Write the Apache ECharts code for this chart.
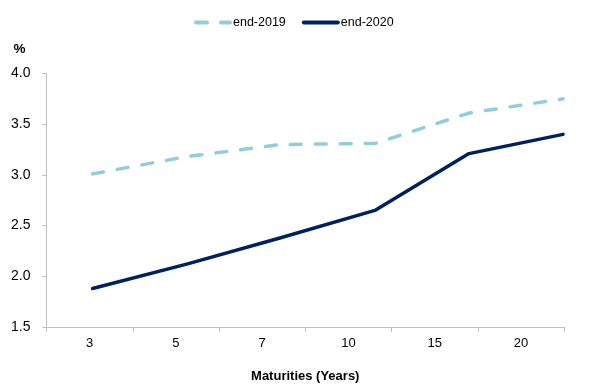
<!DOCTYPE html>
<html>
<head>
<meta charset="utf-8">
<script src="https://cdn.jsdelivr.net/npm/echarts@6/dist/echarts.min.js"></script>
<style>
  html, body { margin: 0; padding: 0; background: #fff; }
  #chart { width: 608px; height: 388px; }
</style>
</head>
<body>
<div id="chart"></div>
<script>
// Yield curve by maturity, end of 2019 vs end of 2020 (%)
var maturities = ['3', '5', '7', '10', '15', '20'];
var end2019 = [3.01, 3.18, 3.30, 3.31, 3.61, 3.75];
var end2020 = [1.88, 2.12, 2.38, 2.65, 3.21, 3.40];
var yTicks = { min: 1.5, max: 4.0, step: 0.5 };

var FONT = "'Liberation Sans', Arial, sans-serif";
var AXIS_GREY = '#BFBFBF';

function points(values) {
  return values.map(function (v, i) { return [i, v]; });
}

var chart = echarts.init(document.getElementById('chart'), null, { renderer: 'canvas' });

chart.setOption({
  animation: false,
  backgroundColor: '#ffffff',
  textStyle: { fontFamily: FONT },
  legend: {
    left: 189,
    top: 11,
    itemWidth: 34,
    itemHeight: 12,
    itemGap: 16,
    itemStyle: { opacity: 0 },
    lineStyle: { width: 4 },
    textStyle: { fontFamily: FONT, fontSize: 12.5, color: '#000', padding: [0, 0, 0, -2] },
    data: ['end-2019', 'end-2020']
  },
  grid: { left: 46.5, right: 44, top: 73.5, bottom: 60 },
  xAxis: [
    {
      type: 'category',
      data: maturities,
      boundaryGap: true,
      axisLine: { lineStyle: { color: AXIS_GREY, width: 1 } },
      axisTick: { show: true, length: 5, alignWithLabel: false, lineStyle: { color: AXIS_GREY } },
      axisLabel: { interval: 0, margin: 10, fontFamily: FONT, fontSize: 13, color: '#000' },
      name: 'Maturities (Years)',
      nameLocation: 'middle',
      nameGap: 43,
      nameTextStyle: { fontFamily: FONT, fontSize: 13, fontWeight: 'bold', color: '#000' }
    },
    {
      // positional axis carrying the plotted points across the plot width
      type: 'value',
      show: false,
      min: -0.49,
      max: 5.01
    }
  ],
  yAxis: {
    type: 'value',
    min: yTicks.min,
    max: yTicks.max,
    interval: yTicks.step,
    splitLine: { show: false },
    axisLine: { show: true, onZero: false, lineStyle: { color: AXIS_GREY, width: 1 } },
    axisTick: { show: true, length: 4, lineStyle: { color: AXIS_GREY } },
    axisLabel: {
      margin: 16,
      fontFamily: FONT,
      fontSize: 14,
      color: '#000',
      formatter: function (v) { return v.toFixed(1); }
    },
    name: '%',
    nameLocation: 'end',
    nameGap: 17,
    nameTextStyle: { fontFamily: FONT, fontSize: 13.5, fontWeight: 'bold', color: '#000', align: 'right', padding: [0, 21, 0, 0] }
  },
  series: [
    {
      name: 'end-2019',
      type: 'line',
      xAxisIndex: 1,
      data: points(end2019),
      symbol: 'none',
      color: '#93CDDD',
      lineStyle: { color: '#93CDDD', width: 3.5, type: [11, 14], cap: 'round' }
    },
    {
      name: 'end-2020',
      type: 'line',
      xAxisIndex: 1,
      data: points(end2020),
      symbol: 'none',
      color: '#002060',
      lineStyle: { color: '#002060', width: 3.5, cap: 'round', join: 'round' }
    }
  ]
});
</script>
</body>
</html>
